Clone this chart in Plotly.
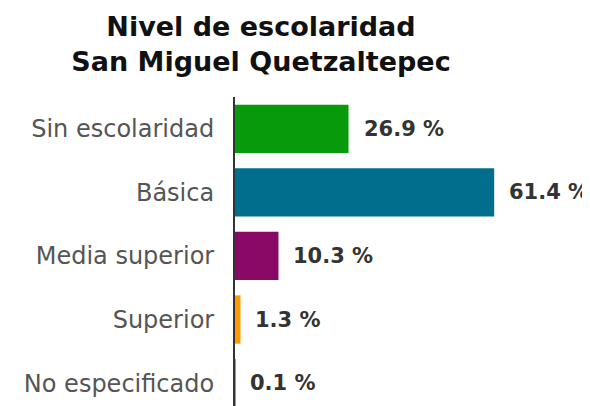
import plotly.graph_objects as go

categories = ["Sin escolaridad", "Básica", "Media superior", "Superior", "No especificado"]
values = [26.9, 61.4, 10.3, 1.3, 0.1]
colors = ["#079a0b", "#026e8e", "#8a0866", "#ff9a00", "#9a9a9a"]
value_labels = [f"{v} %" for v in values]

fig = go.Figure()
fig.add_trace(go.Bar(
    y=categories, x=values, orientation="h",
    marker=dict(color=colors, line=dict(width=0)),
    width=0.76, hoverinfo="skip",
))

for c, v, t in zip(categories, values, value_labels):
    fig.add_annotation(x=v, y=c, text="<b>" + t + "</b>", showarrow=False, xanchor="left",
                       xshift=13, font=dict(family="DejaVu Sans", size=21, color="#333333"))

# page body has an 8px default margin; size the figure so it fills the 590x406 window
fig.update_layout(
    width=582, height=398,
    margin=dict(l=227, r=0, t=89, b=0, autoexpand=False),
    paper_bgcolor="white", plot_bgcolor="white",
    showlegend=False,
    title=dict(text="<b>Nivel de escolaridad<br>San Miguel Quetzaltepec</b>",
               x=253/582, xanchor="center", xref="container",
               y=1 - 28/398, yanchor="top", yref="container",
               font=dict(family="DejaVu Sans", size=27, color="#111111")),
    xaxis=dict(range=[0, 84.1], visible=False, fixedrange=True, automargin=False),
    yaxis=dict(categoryorder="array", categoryarray=categories, automargin=False,
               range=[4.36, -0.5], showline=True, linecolor="#333333", linewidth=2,
               ticks="", ticklabelstandoff=14, showgrid=False, zeroline=False,
               tickfont=dict(family="DejaVu Sans", size=24, color="#555555")),
)

fig.write_html("out.html")
